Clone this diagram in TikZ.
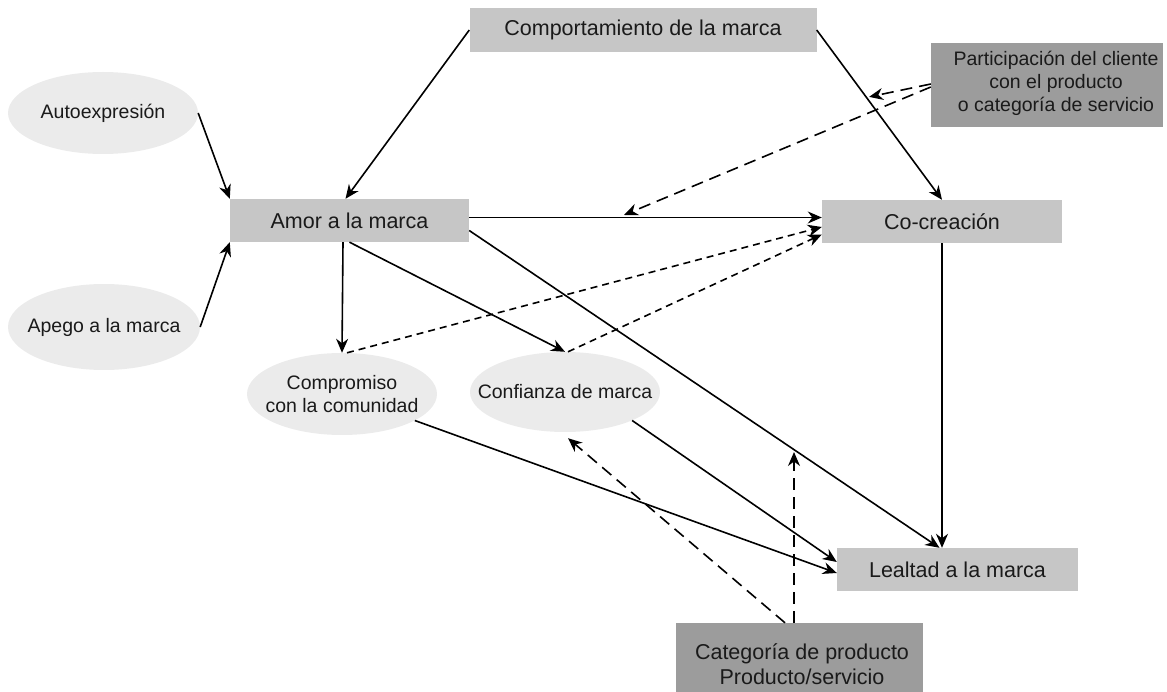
\documentclass[tikz,border=0pt]{standalone}
\usepackage{fontspec}
\setmainfont{Liberation Sans}
\usetikzlibrary{arrows.meta,shapes.geometric,calc}
\definecolor{boxfill}{HTML}{C6C6C6}
\definecolor{darkfill}{HTML}{9C9C9C}
\definecolor{ellfill}{HTML}{EBEBEB}
\definecolor{ink}{HTML}{1A1A1A}
\begin{document}
\begin{tikzpicture}[x=1pt,y=-1pt,
  boxnode/.style={rectangle, fill=boxfill, draw=none, inner sep=0pt, text=ink,
    font=\fontsize{21.5pt}{24pt}\selectfont},
  darknode/.style={rectangle, fill=darkfill, draw=none, inner sep=0pt},
  ellnode/.style={ellipse, fill=ellfill, draw=none, inner sep=0pt},
  smalltext/.style={inner sep=0pt, text=ink, align=center,
    font=\fontsize{19.5pt}{23pt}\selectfont},
  bigtext/.style={inner sep=0pt, text=ink, align=center,
    font=\fontsize{21.5pt}{25pt}\selectfont},
  link/.style={draw=black, line width=1.6pt,
    -{Stealth[length=14pt,width=12pt,inset=4.5pt]}},
  longdash/.style={link, dash pattern=on 12pt off 7pt},
  shortdash/.style={link, dash pattern=on 7pt off 5pt}]
\useasboundingbox (0,0) rectangle (1167,692);

% boxes
\node[boxnode, minimum width=347pt, minimum height=44pt] (comp) at (643,30) {Comportamiento de la marca};
\node[boxnode, minimum width=239pt, minimum height=43pt] (amor) at (349.5,220.5) {Amor a la marca};
\node[boxnode, minimum width=240pt, minimum height=43pt] (cocre) at (942,221.5) {Co-creación};
\node[boxnode, minimum width=241pt, minimum height=43pt] (leal) at (957.5,569.5) {Lealtad a la marca};

% moderators
\node[darknode, minimum width=232pt, minimum height=84pt] (part) at (1047,85) {};
\node[smalltext] (partt) at (1056,83) {Participación del cliente\\con el producto\\o categoría de servicio};
\node[darknode, minimum width=247pt, minimum height=84pt] (cat) at (799.5,665) {};
\node[bigtext] (catt) at (802,664.5) {Categoría de producto\\Producto/servicio};

% antecedents and mediators
\node[ellnode, minimum width=190pt, minimum height=82pt] (auto) at (103,113) {};
\node[smalltext] (autot) at (auto) {Autoexpresión};
\node[ellnode, minimum width=192pt, minimum height=86pt] (apego) at (104,327) {};
\node[smalltext] (apegot) at (apego) {Apego a la marca};
\node[ellnode, minimum width=190pt, minimum height=82pt] (compr) at (342,394) {};
\node[smalltext] (comprt) at (342,394.5) {Compromiso\\con la comunidad};
\node[ellnode, minimum width=190pt, minimum height=80pt] (conf) at (565,392) {};
\node[smalltext] (conft) at (conf) {Confianza de marca};

% points where moderating effects meet a path
\coordinate (m1) at ($(comp.east)!0.394!(cocre.north)$);
\coordinate (m2) at (624,215);
\coordinate (m3) at (794,452);

% direct paths
\draw[link] (auto.east) -- (amor.north west);
\draw[link] (apego.east) -- (amor.south west);
\draw[link] (comp.west) -- ([xshift=-4pt]amor.north);
\draw[link] (comp.east) -- (cocre.north);
\draw[link] ([yshift=3pt]amor.east) -- ([yshift=3pt]amor.east -| cocre.west);
\draw[link] ([yshift=-10pt]amor.east) -- ([xshift=-18pt]leal.north);
\draw[link] (cocre.south) -- (cocre.south |- leal.north);
\draw[link] ([xshift=-6.5pt]amor.south) -- (compr.north);
\draw[link] (amor.south) -- (conf.north);
\draw[link] (compr.-20) -- ([yshift=-3.5pt]leal.west);
\draw[link] (conf.-23) -- ([yshift=7.5pt]leal.west);

% mediated paths to co-creation
\draw[shortdash] ([xshift=5pt]compr.north) -- ([yshift=-5.5pt]cocre.west);
\draw[shortdash] ([xshift=3pt]conf.north) -- ([yshift=-13pt]cocre.west);

% moderating effects
\draw[longdash] ([yshift=1pt]part.west) -- ([xshift=3pt]m1);
\draw[longdash] ([yshift=-2pt]part.west) -- (m2);
\draw[longdash] ([xshift=-14.5pt]cat.north) -- ([shift={(3pt,-6pt)}]conf.south);
\draw[longdash] ([xshift=-5.5pt]cat.north) -- ([xshift=-5.5pt]cat.north |- m3);
\end{tikzpicture}
\end{document}
